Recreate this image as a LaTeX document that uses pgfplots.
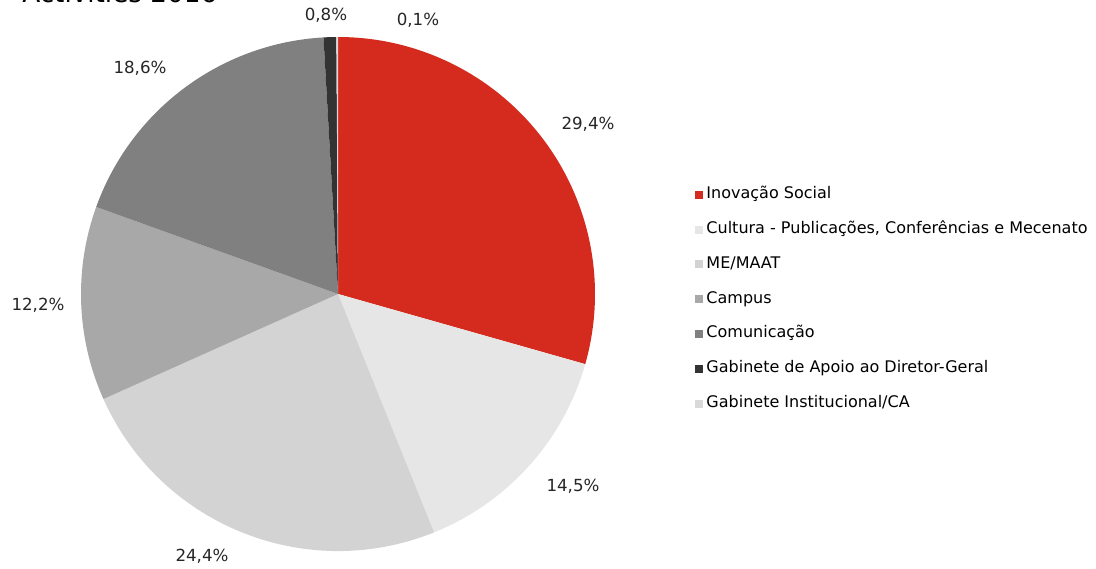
\documentclass[border=0pt]{standalone}
\usepackage{pgfplots}
\pgfplotsset{compat=1.18}
\usepackage{fontspec}
\setmainfont{DejaVu Sans}

\definecolor{inov}{HTML}{D52B1E}
\definecolor{cult}{HTML}{E6E6E6}
\definecolor{maat}{HTML}{D3D3D3}
\definecolor{camp}{HTML}{A8A8A8}
\definecolor{comu}{HTML}{808080}
\definecolor{gadg}{HTML}{333333}
\definecolor{gica}{HTML}{D9D9D9}

% radius of the pie: 257 axis units at 0.75pt each
\def\R{192.75pt}
% \slice{cumulative % before}{share %}{colour}, clockwise from 12 o'clock
\newcommand\slice[3]{%
  \fill[#3] (axis cs:0,0) -- ++({90-3.6*(#1)}:\R)
    arc[start angle={90-3.6*(#1)}, delta angle={-3.6*(#2)}, radius=\R] -- cycle;}

\begin{document}
\begin{tikzpicture}
\begin{axis}[
    at={(0,0)}, anchor=south west,
    x=0.75pt, y=0.75pt,
    xmin=-338, xmax=758, ymin=-274, ymax=294,
    hide axis, clip=false,
    legend cell align=left,
    legend style={draw=none, fill=none, inner sep=0pt,
        at={(axis description cs:0.634,0.4734)}, anchor=west,
        row sep=14.1pt, font=\fontsize{12}{14}\selectfont,
        nodes={inner xsep=2.5pt, inner ysep=0pt, text height=9pt, text depth=3pt}},
    legend image code/.code={\fill[#1, draw=none] (0pt,-3pt) rectangle (6pt,3pt);},
]
\addlegendimage{fill=inov}
\addlegendentry{Inovação Social}
\addlegendimage{fill=cult}
\addlegendentry{Cultura - Publicações, Conferências e Mecenato}
\addlegendimage{fill=maat}
\addlegendentry{ME/MAAT}
\addlegendimage{fill=camp}
\addlegendentry{Campus}
\addlegendimage{fill=comu}
\addlegendentry{Comunicação}
\addlegendimage{fill=gadg}
\addlegendentry{Gabinete de Apoio ao Diretor-Geral}
\addlegendimage{fill=gica}
\addlegendentry{Gabinete Institucional/CA}

\slice{0}{29.4}{inov}
\slice{29.4}{14.5}{cult}
\slice{43.9}{24.4}{maat}
\slice{68.3}{12.2}{camp}
\slice{80.5}{18.6}{comu}
\slice{99.1}{0.8}{gadg}
\slice{99.9}{0.1}{gica}

\begin{scope}[every node/.style={font=\fontsize{12.5}{14}\selectfont, text=black!85}]
\node at (axis cs:250,170) {29,4\%};
\node at (axis cs:235,-192) {14,5\%};
\node at (axis cs:-136,-262) {24,4\%};
\node at (axis cs:-300,-11) {12,2\%};
\node at (axis cs:-198,226) {18,6\%};
\node at (axis cs:-12,279) {0,8\%};
\node at (axis cs:80,274) {0,1\%};
\end{scope}

\node[anchor=base west, inner sep=0pt, font=\fontsize{19.7}{22}\selectfont]
    at (axis cs:-316,291) {Activities 2016};
\end{axis}
\pgfresetboundingbox
\path[use as bounding box] (0,0) rectangle (822pt,426pt);
\end{tikzpicture}
\end{document}
